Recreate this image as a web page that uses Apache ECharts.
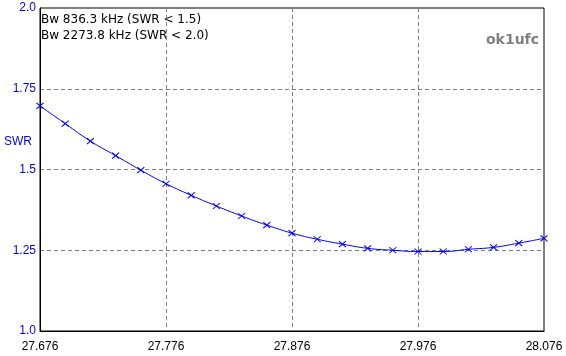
<!DOCTYPE html>
<html>
<head>
<meta charset="utf-8">
<script src="https://cdn.jsdelivr.net/npm/echarts@6/dist/echarts.min.js"></script>
<style>
  html, body { margin: 0; padding: 0; background: #fff; }
  #main { width: 566px; height: 356px; }
</style>
</head>
<body>
<div id="main"></div>
<script>
// frequency (MHz) of each measured point
var freq_list = ['27.676', '27.696', '27.716', '27.736', '27.756', '27.776', '27.796',
                 '27.816', '27.836', '27.856', '27.876', '27.896', '27.916', '27.936',
                 '27.956', '27.976', '27.996', '28.016', '28.036', '28.056', '28.076'];
// SWR
var swr_list = [1.697, 1.642, 1.588, 1.543, 1.498, 1.456, 1.420, 1.387, 1.356, 1.328, 1.303,
                1.284, 1.269, 1.256, 1.250, 1.246, 1.246, 1.253, 1.259, 1.272, 1.287];
// y tick labels
var y_labels = { 1: '1.0', 1.25: '1.25', 1.5: '1.5', 1.75: '1.75', 2: '2.0' };
var bw_lines = ['Bw 836.3 kHz (SWR < 1.5)', 'Bw 2273.8 kHz (SWR < 2.0)'];

var chart = echarts.init(document.getElementById('main'));

var option = {
    animation: false,
    backgroundColor: '#fff',
    textStyle: { fontFamily: 'Liberation Sans, Arial, sans-serif' },
    grid: {
        left: 40, right: 22, top: 8, bottom: 25,
        show: true,
        borderColor: '#000',
        borderWidth: 1
    },
    xAxis: {
        type: 'category',
        boundaryGap: false,
        data: freq_list,
        axisLine: { lineStyle: { color: '#000', width: 1 } },
        axisTick: { show: false },
        axisLabel: {
            interval: 4,
            color: '#000',
            fontSize: 12,
            margin: 10,
            showMinLabel: true,
            showMaxLabel: true
        },
        splitLine: {
            show: true,
            interval: 4,
            lineStyle: { color: '#808080', type: [4, 3], width: 1 }
        }
    },
    yAxis: {
        type: 'value',
        min: 1,
        max: 2,
        interval: 0.25,
        axisLine: { show: true, lineStyle: { color: '#000', width: 1 } },
        axisTick: { show: false },
        axisLabel: {
            color: '#0000ff',
            fontSize: 12,
            margin: 4,
            formatter: function (v) {
                return y_labels[v] !== undefined ? y_labels[v] : '';
            }
        },
        splitLine: {
            show: true,
            lineStyle: { color: '#808080', type: [4, 3], width: 1 }
        }
    },
    graphic: [
        {
            type: 'text', left: 41, top: 14,
            style: { text: bw_lines[0], fill: '#000', font: '12px DejaVu Sans, sans-serif' }
        },
        {
            type: 'text', left: 41, top: 30,
            style: { text: bw_lines[1], fill: '#000', font: '12px DejaVu Sans, sans-serif' }
        },
        {
            type: 'text', right: 27, top: 33,
            style: { text: 'ok1ufc', fill: '#808080', font: 'bold 14px DejaVu Sans, sans-serif' }
        },
        {
            type: 'text', left: 4, top: 136,
            style: { text: 'SWR', fill: '#0000ff', font: '12px Liberation Sans, Arial, sans-serif' }
        }
    ],
    series: [
        {
            name: 'SWR',
            type: 'line',
            smooth: true,
            data: swr_list,
            lineStyle: { color: '#0000ff', width: 1 },
            symbol: 'path://M0,0L10,10M10,0L0,10',
            symbolSize: [7, 6],
            showAllSymbol: true,
            itemStyle: { color: '#0000ff', borderColor: '#0000ff', borderWidth: 1 }
        }
    ]
};

chart.setOption(option);
</script>
</body>
</html>
